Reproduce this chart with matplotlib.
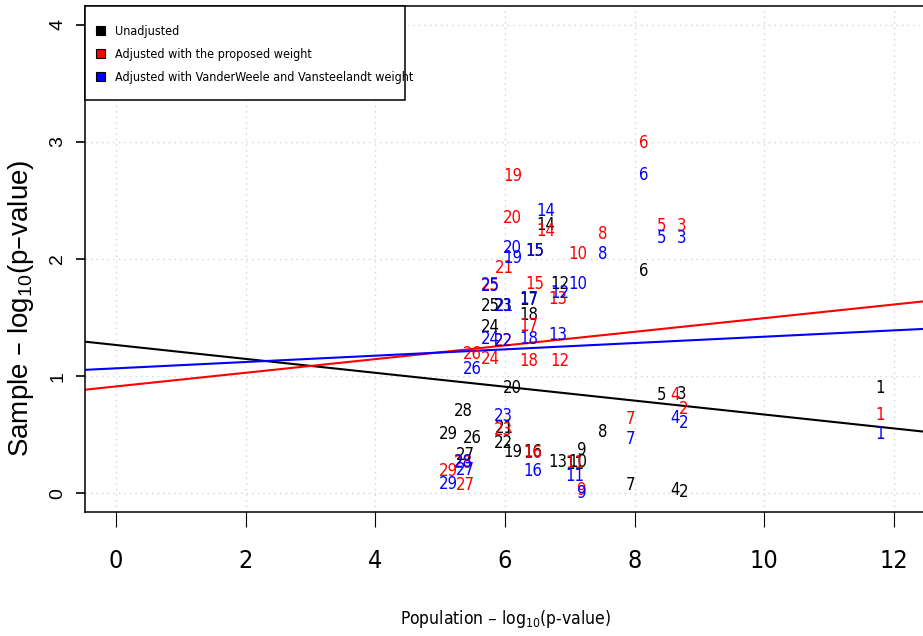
import matplotlib
matplotlib.use("Agg")
import matplotlib.pyplot as plt
import numpy as np
from matplotlib.patches import Patch, Rectangle

# population -log10(p) for SNP 1..29
labels = list(range(1, 30))
pop = [11.78, 8.75, 8.72, 8.62, 8.42, 8.14, 7.94, 7.50, 7.19, 7.13,
       7.08, 6.85, 6.82, 6.63, 6.46, 6.43, 6.36, 6.36, 6.12, 6.11,
       5.99, 5.98, 5.98, 5.77, 5.77, 5.49, 5.39, 5.36, 5.12]

# sample -log10(p)
unadj = [0.90, 0.01, 0.85, 0.03, 0.84, 1.90, 0.07, 0.52, 0.37, 0.27,
         0.25, 1.79, 0.27, 2.29, 2.07, 0.35, 1.65, 1.52, 0.35, 0.90,
         0.56, 0.43, 1.60, 1.42, 1.60, 0.47, 0.33, 0.70, 0.51]
proposed = [0.665, 0.72, 2.28, 0.84, 2.28, 2.99, 0.63, 2.21, 0.03, 2.04,
            0.26, 1.13, 1.66, 2.24, 1.79, 0.34, 1.43, 1.13, 2.71, 2.35,
            1.92, 1.30, 0.54, 1.15, 1.78, 1.19, 0.07, 0.26, 0.19]
vv = [0.51, 0.60, 2.18, 0.64, 2.18, 2.72, 0.46, 2.04, 0.00, 1.79,
      0.15, 1.71, 1.35, 2.41, 2.07, 0.19, 1.66, 1.32, 2.01, 2.09,
      1.60, 1.30, 0.66, 1.32, 1.77, 1.06, 0.20, 0.27, 0.08]

series_names = ["Unadjusted", "Adjusted with the proposed weight",
                "Adjusted with VanderWeele and Vansteelandt weight"]
cols = ["black", "#FF0000", "#0000FF"]

plt.rcParams['font.family'] = ["Liberation Sans", "DejaVu Sans"]
cond = dict(family=["DejaVu Sans"], stretch="condensed")

fig = plt.figure(figsize=(9.23, 6.36), dpi=100)
ax = fig.add_axes([85/923, 124/636, 840/923, 506/636])
ax.set_xlim(-0.48, 12.48)
ax.set_ylim(-0.16, 4.16)

ax.set_xticks(np.arange(0, 13, 2))
ax.set_yticks(np.arange(0, 5, 1))
ax.grid(True, color="#d3d3d3", linestyle=(0, (1, 3)), linewidth=1)
ax.set_axisbelow(True)

pop_arr = np.array(pop)
xx = np.array([-0.48, 12.48])
for ys, c in zip([unadj, proposed, vv], cols):
    for lab, x, y in zip(labels, pop, ys):
        ax.text(x, y, str(lab), color=c, ha="center", va="center",
                fontsize=12, **cond)
    # least-squares fit, as abline(lm(y ~ x))
    b, a = np.polyfit(pop_arr, np.array(ys), 1)
    ax.plot(xx, a + b*xx, color=c, lw=1.5)

for s in ax.spines.values():
    s.set_linewidth(1.1)
ax.spines["right"].set_visible(False)

ax.tick_params(axis="x", length=11, width=0.8, pad=16, labelsize=18)
ax.tick_params(axis="y", length=6.5, width=1.2, pad=7, labelsize=14)
for t in ax.get_xticklabels():
    t.set_family(["DejaVu Sans"])
    t.set_stretch("condensed")
for t in ax.get_yticklabels():
    t.set_rotation(90)
    t.set_va("center")

ax.set_xlabel(r"Population – log$\mathregular{_{10}}$(p-value)",
              fontsize=12.5, **cond)
ax.set_ylabel(r"Sample – log$\mathregular{_{10}}$(p–value)", fontsize=20)
ax.xaxis.set_label_coords(0.5, -0.19)
ax.yaxis.set_label_coords(-0.058, 0.403)

# legend box
ax.add_patch(Rectangle((0, 0.814), 0.381, 0.186, transform=ax.transAxes,
                       facecolor="white", edgecolor="black", lw=1.1,
                       zorder=5, clip_on=False))
handles = [Patch(facecolor=c, edgecolor="black", lw=0.8) for c in cols]
leg = ax.legend(handles, series_names, loc="upper left",
                bbox_to_anchor=(0.0125, 0.963), borderaxespad=0, borderpad=0,
                frameon=False, prop=dict(size=9, **cond), handlelength=0.75,
                handleheight=0.75, handletextpad=0.84, labelspacing=0.8)
leg.set_zorder(6)

fig.savefig("out.png", dpi=100)
